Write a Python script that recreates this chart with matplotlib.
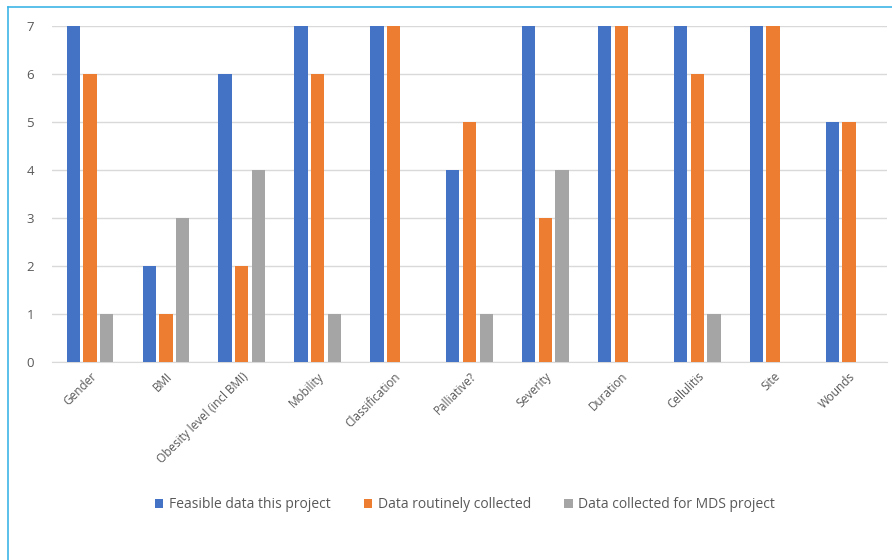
import matplotlib
matplotlib.use("Agg")
import matplotlib.pyplot as plt
import numpy as np
from matplotlib.lines import Line2D

categories = ["Gender", "BMI", "Obesity level (incl BMI)", "Mobility", "Classification",
              "Palliative?", "Severity", "Duration", "Cellulitis", "Site", "Wounds"]
feasible = [7, 2, 6, 7, 7, 4, 7, 7, 7, 7, 5]
routine = [6, 1, 2, 6, 7, 5, 3, 7, 6, 7, 5]
mds = [1, 3, 4, 1, 0, 1, 4, 0, 1, 0, 0]
series_names = ["Feasible data this project", "Data routinely collected", "Data collected for MDS project"]
colors = ["#4472C4", "#ED7D31", "#A5A5A5"]
yticks = [0, 1, 2, 3, 4, 5, 6, 7]

plt.rcParams['font.family'] = ['Open Sans', 'DejaVu Sans']

fig = plt.figure(figsize=(8.92, 5.6), dpi=100)
ax = fig.add_axes([52/892, 1-361.7/560, (887-52)/892, (361.7-25.7)/560])

x = np.arange(len(categories))
bw = 0.175
step = 0.22
for i, (vals, c, name) in enumerate(zip([feasible, routine, mds], colors, series_names)):
    ax.bar(x + (i-1)*step, vals, width=bw, color=c, label=name, zorder=3)

ax.set_xlim(-0.5, len(categories)-0.5)
ax.set_ylim(0, 7)
ax.set_yticks(yticks)
ax.set_yticklabels([str(v) for v in yticks], fontsize=9.5, color="#595959")
ax.set_xticks(x)
ax.set_xticklabels(categories, rotation=45, ha="right", rotation_mode="anchor",
                   fontsize=8.5, color="#595959")
ax.tick_params(axis="both", length=0)
ax.tick_params(axis="y", pad=13)
ax.tick_params(axis="x", pad=6)
ax.grid(axis="y", color="#D9D9D9", linewidth=1, zorder=0)
for s in ["top", "right", "left"]:
    ax.spines[s].set_visible(False)
ax.spines["bottom"].set_color("#D9D9D9")
ax.spines["bottom"].set_zorder(2)

leg = fig.legend(loc="center", bbox_to_anchor=(465/892, 1-505/560), ncol=3, frameon=False,
                 fontsize=10, handlelength=0.6, handleheight=0.6, columnspacing=2.4,
                 handletextpad=0.4)
for t in leg.get_texts():
    t.set_color("#595959")

# border lines
fig.add_artist(Line2D([8/892, 8/892], [0, 1-7/560], transform=fig.transFigure,
                      color="#3DB5E6", linewidth=1.2))
fig.add_artist(Line2D([8/892, 1], [1-7/560, 1-7/560], transform=fig.transFigure,
                      color="#3DB5E6", linewidth=1.2))

fig.savefig("out.png", dpi=100)
